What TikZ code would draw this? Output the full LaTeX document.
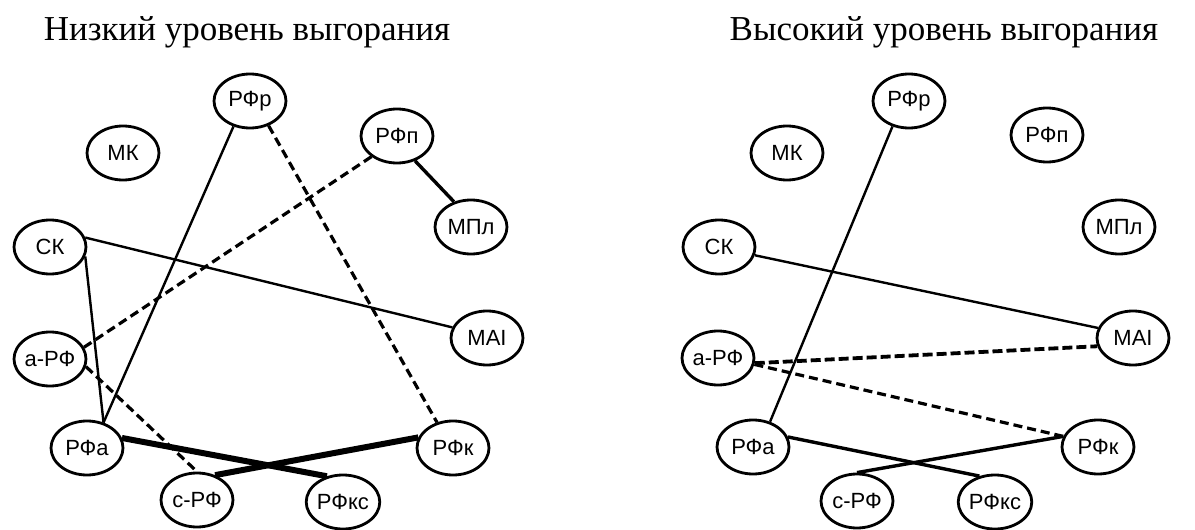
\documentclass[tikz,border=0pt]{standalone}
\usepackage{fontspec}
\setmainfont{Liberation Serif}
\newfontfamily\arialfont{Liberation Sans}
\usetikzlibrary{shapes.geometric}
\begin{document}
\begin{tikzpicture}[x=1pt,y=-1pt,
 var/.style={ellipse,draw,line width=2.8pt,minimum width=72pt,minimum height=54pt,inner sep=0pt,font=\arialfont\fontsize{22}{22}\selectfont},
 ttl/.style={font=\fontsize{35}{35}\selectfont,anchor=base,inner sep=0pt},
 lthin/.style={line width=2.4pt},
 lmed/.style={line width=3.4pt},
 lheavy/.style={line width=6pt},
 ldash/.style={line width=3.2pt,dash pattern=on 9pt off 5pt},
 ldashb/.style={line width=3.8pt,dash pattern=on 10pt off 4pt},
]
\useasboundingbox (0,0) rectangle (1195,530);
% titles
\node[ttl] (t1) at (247,40) {Низкий уровень выгорания};
\node[ttl] (t2) at (944,40) {Высокий уровень выгорания};
% left graph
\node[var] (lRr) at (250,101) {РФр};
\node[var] (lMK) at (123,153) {МК};
\node[var] (lRp) at (397,136) {РФп};
\node[var] (lMPl) at (471,227) {МПл};
\node[var] (lSK) at (50,247) {СК};
\node[var] (lMAI) at (487,338) {MAI};
\node[var] (laR) at (50,359) {а-РФ};
\node[var] (lRa) at (87,448) {РФа};
\node[var] (lRk) at (453,448) {РФк};
\node[var] (lcR) at (197,500) {с-РФ};
\node[var] (lRks) at (343,502) {РФкс};
% right graph
\node[var] (rRr) at (909,101) {РФр};
\node[var] (rMK) at (787,153) {МК};
\node[var] (rRp) at (1047,135) {РФп};
\node[var] (rMPl) at (1119,227) {МПл};
\node[var] (rSK) at (719,247) {СК};
\node[var] (rMAI) at (1133,338) {MAI};
\node[var] (raR) at (718,358) {а-РФ};
\node[var] (rRa) at (753,447) {РФа};
\node[var] (rRk) at (1098,447) {РФк};
\node[var] (rcR) at (857,501) {с-РФ};
\node[var] (rRks) at (995,502) {РФкс};
% left edges
\draw[lthin] (lRr.-123) -- (lRa.57);
\draw[ldash] (lRr.-53) -- (lRk.122);
\draw[ldash] (lRp.-141) -- (laR.19);
\draw[lmed] (lRp.-54) -- (lMPl.124);
\draw[lthin] (lSK.15) -- (lMAI.163);
\draw[lthin] (lSK.-15) -- (lRa.57);
\draw[ldash] (laR.-12) -- (lcR.90);
\draw[lheavy] (lRa.16) -- (lRks.122);
\draw[lheavy] (lRk.163) -- (lcR.54);
% right edges
\draw[lthin] (rRr.-123) -- (rRa.56);
\draw[lthin] (rSK.-13) -- (rMAI.164);
\draw[ldashb] (raR.-8) -- (rMAI.-167);
\draw[ldash] (raR.-10) -- (rRk.163);
\draw[lmed] (rRa.16) -- (rRks.121);
\draw[lmed] (rRk.163) -- (rcR.90);
\end{tikzpicture}
\end{document}
